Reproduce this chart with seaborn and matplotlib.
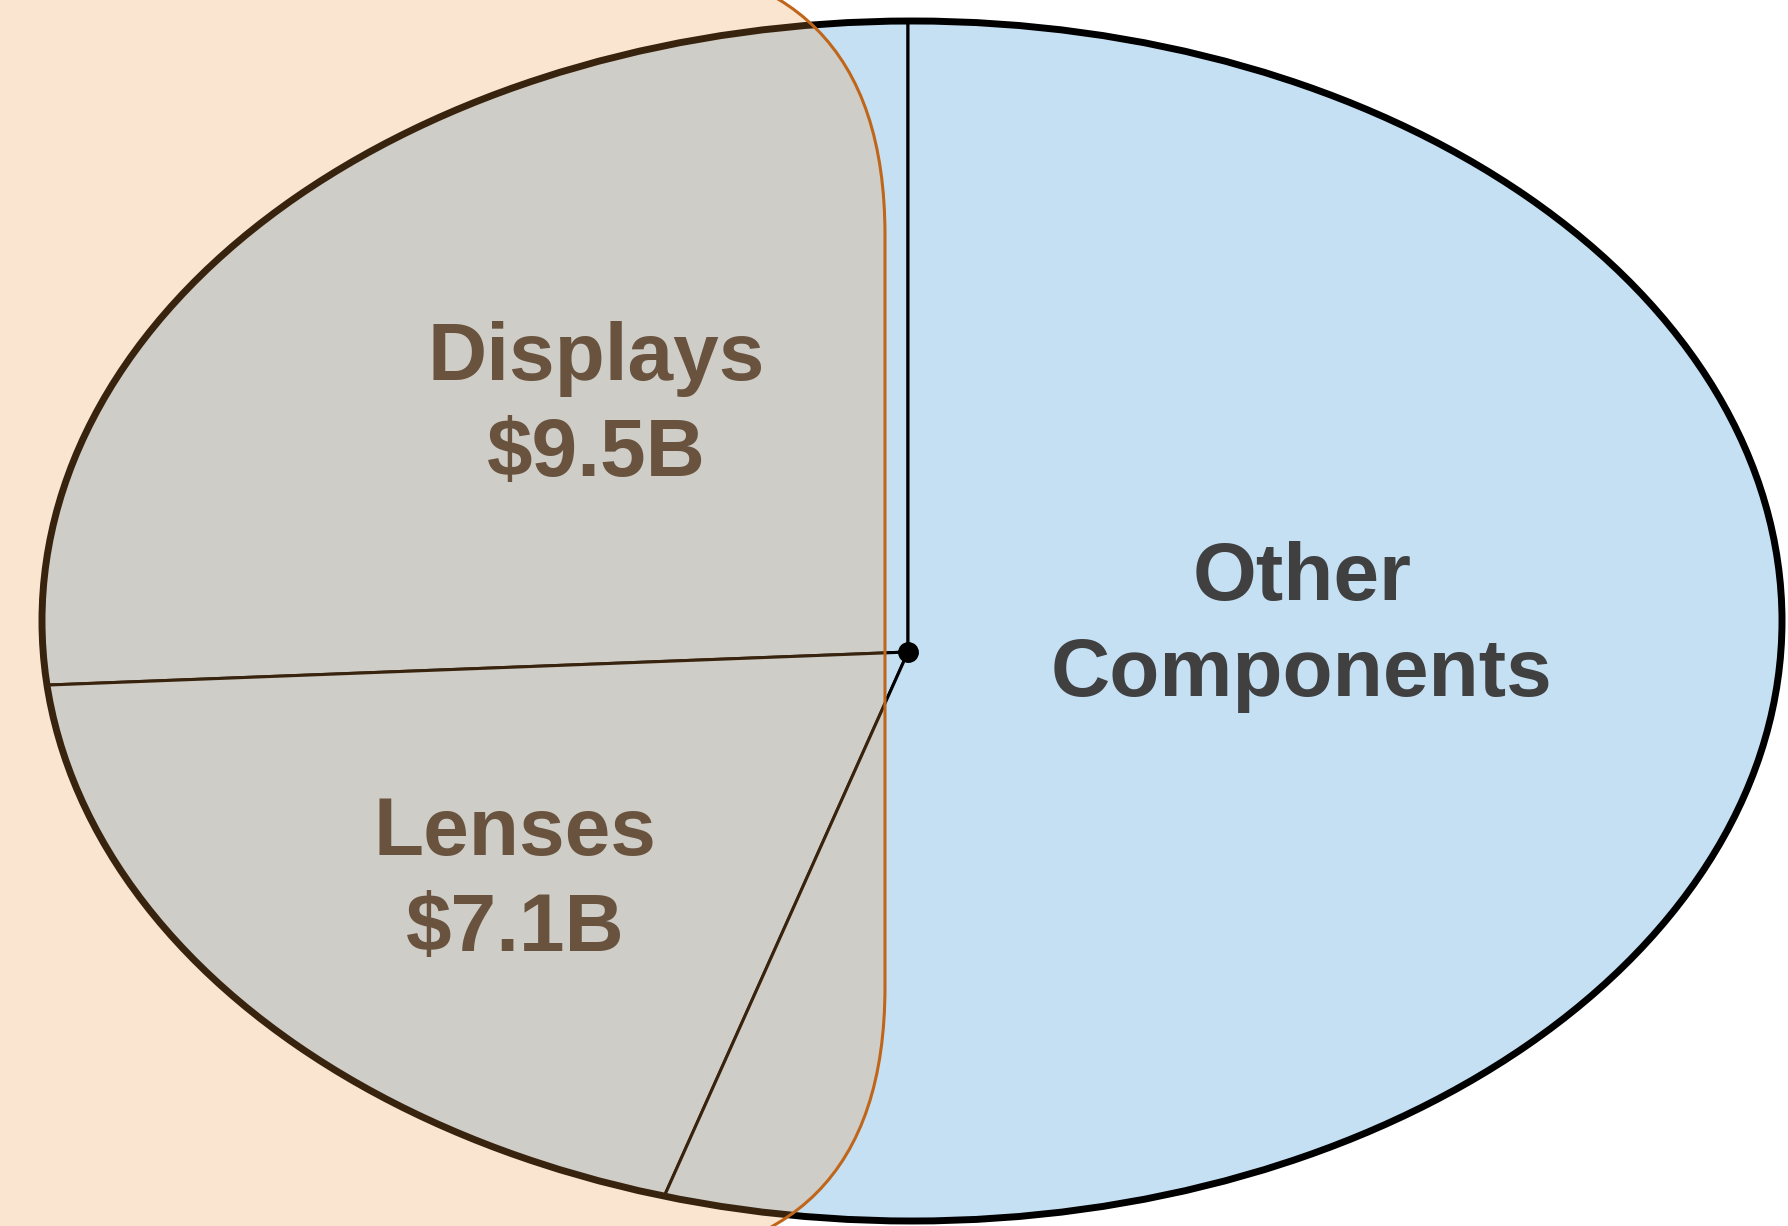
import matplotlib
matplotlib.use("Agg")
import matplotlib.pyplot as plt
import seaborn as sns
from matplotlib.patches import Ellipse, FancyBboxPatch

# Data -----
names = ["Displays", "Lenses", "Other Components"]
values = [9.5, 7.1, 20.1]          # $B (Other)
show_value = [True, True, False]

# Layout (pixels of the 1788x1226 output) -----
W, H = 1788, 1226
CX, CY = 908, 652          # pie centre
RA, RB = 870, 600          # ellipse semi-axes
ECX, ECY = 912, 621        # outline ellipse centre (pie centre sits a bit low)
label_pos = [(596, 380), (515, 855), (1302, 600)]   # first baseline of each label
line_gap = 96

blue = "#C5E0F3"
text_color = "#404040"

sns.set_theme(style="white")
plt.rcParams["font.family"] = ["Liberation Sans", "DejaVu Sans"]

fig = plt.figure(figsize=(W / 100, H / 100), dpi=100, facecolor="white")

# pie axes: unit circle -> ellipse by stretching the axes
ax = fig.add_axes([0, 0, 1, 1])
wedges, _ = ax.pie(values, startangle=90, counterclock=True, radius=1.25,
                   colors=[blue] * len(values),
                   wedgeprops=dict(edgecolor="black", linewidth=2.2))
ax.set_aspect("auto")
ax.set_xlim((0 - CX) / RA, (W - CX) / RA)
ax.set_ylim((CY - H) / RB, CY / RB)
ax.axis("off")

# clip the oversized wedges to the outline ellipse
ell_xy = ((ECX - CX) / RA, (CY - ECY) / RB)
clip = Ellipse(ell_xy, 2, 2, transform=ax.transData)
for w in wedges:
    w.set_clip_on(True)
    w.set_clip_path(clip)
ax.add_patch(Ellipse(ell_xy, 2, 2, facecolor="none", edgecolor="black",
                     linewidth=5, zorder=4))
ax.plot(0, 0, "o", color="black", markersize=14, zorder=5)

# overlay axes in pixel coordinates: labels and the highlight box
ax2 = fig.add_axes([0, 0, 1, 1])
ax2.set_xlim(0, W)
ax2.set_ylim(H, 0)
ax2.axis("off")
ax2.patch.set_alpha(0)

for name, v, sv, (x, y) in zip(names, values, show_value, label_pos):
    lines = [name, f"${v}B"] if sv else name.split(" ")
    for i, line in enumerate(lines):
        ax2.text(x, y + i * line_gap, line, ha="center", va="baseline",
                 fontsize=59, fontweight="bold", color=text_color, zorder=3)

box = FancyBboxPatch((-400, -40), 885 + 400, 1302,
                     boxstyle="round,pad=0,rounding_size=275",
                     facecolor=(238 / 255, 147 / 255, 59 / 255, 0.24),
                     edgecolor="#C0661A", linewidth=2.2, zorder=5)
ax2.add_patch(box)

fig.savefig("out.png", dpi=100, facecolor="white")
